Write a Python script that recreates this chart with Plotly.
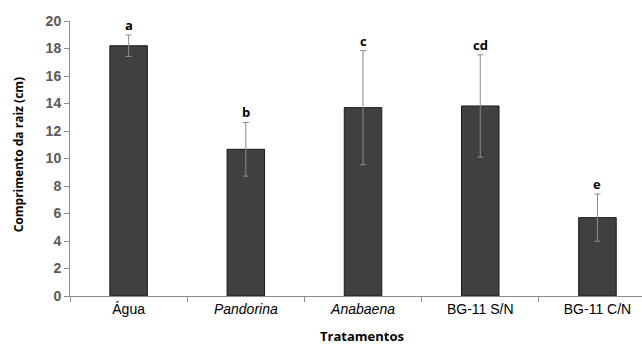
import plotly.graph_objects as go

categories = ["Água", "<i>Pandorina</i>", "<i>Anabaena</i>", "BG-11 S/N", "BG-11 C/N"]
values = [18.2, 10.67, 13.7, 13.82, 5.7]
errors = [0.78, 1.95, 4.15, 3.72, 1.72]
letters = ["a", "b", "c", "cd", "e"]
y_ticks = [0, 2, 4, 6, 8, 10, 12, 14, 16, 18, 20]

fig = go.Figure()
fig.add_trace(go.Bar(
    x=categories, y=values, width=0.32,
    marker=dict(color="#404040", line=dict(color="#1a1a1a", width=1)),
    error_y=dict(type="data", array=errors, visible=True,
                 color="#8c8c8c", thickness=1, width=3),
))

for c, v, e, t in zip(categories, values, errors, letters):
    fig.add_annotation(x=c, y=v + e, text="<b>%s</b>" % t, showarrow=False,
                       yanchor="middle", yshift=10,
                       font=dict(family="Open Sans", size=13, color="black"))

fig.add_annotation(xref="paper", yref="paper", x=(362 - 70) / 572, y=(295.7 - 336) / 275,
                   text="<b>Tratamentos</b>", showarrow=False, yanchor="middle",
                   font=dict(family="Open Sans", size=13, color="black"))
fig.add_annotation(xref="paper", yref="paper", x=(18 - 70) / 572, y=(295.7 - 155) / 275,
                   text="<b>Comprimento da raiz (cm)</b>", showarrow=False, textangle=-90,
                   xanchor="center", yanchor="middle",
                   font=dict(family="Open Sans", size=12, color="black"))

fig.update_layout(
    width=642, height=345,
    margin=dict(l=70, r=0, t=21, b=49),
    paper_bgcolor="white", plot_bgcolor="white",
    showlegend=False,
    xaxis=dict(type="category", range=[-0.5, 4.38], showline=True, linecolor="#8c8c8c",
               linewidth=1, ticks="outside", tickson="boundaries", ticklen=5,
               tickcolor="#8c8c8c", showgrid=False,
               tickfont=dict(family="Liberation Sans", size=14, color="black")),
    yaxis=dict(range=[0, 20], tickvals=y_ticks, showline=True, linecolor="#8c8c8c",
               linewidth=1, ticks="outside", ticklen=5, tickcolor="#8c8c8c",
               showgrid=False, zeroline=False,
               tickfont=dict(family="Liberation Sans", size=14, color="#595959",
                             weight="bold")),
)

fig.write_html("out.html")
